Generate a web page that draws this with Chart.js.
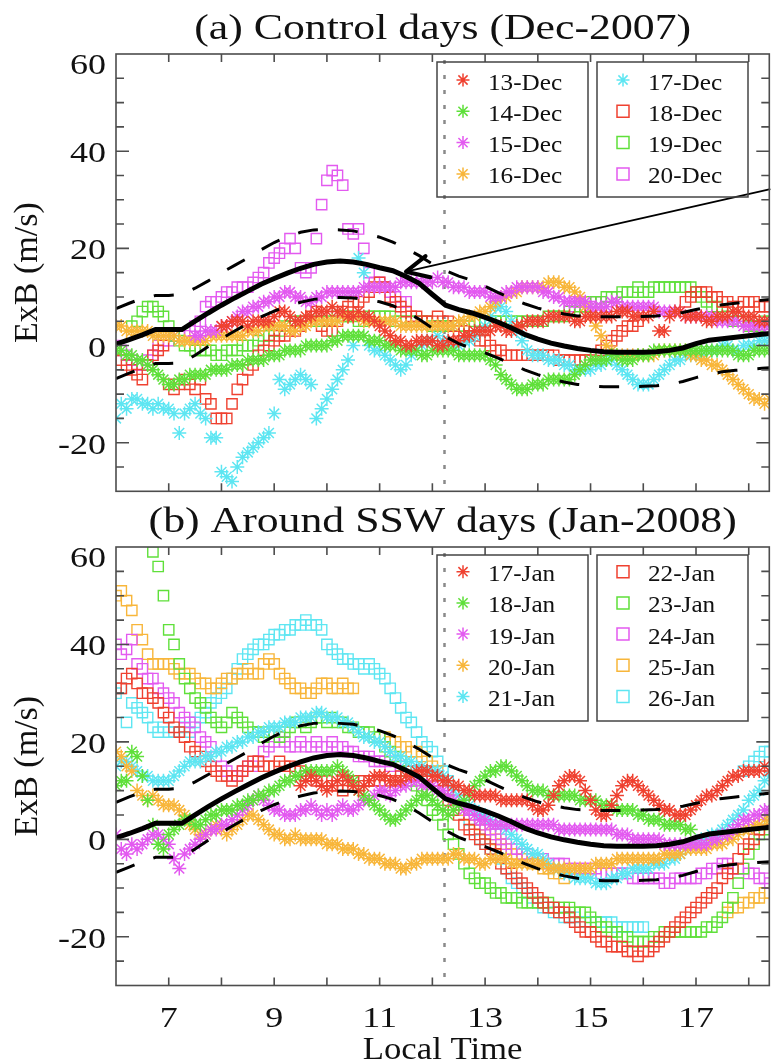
<!DOCTYPE html>
<html>
<head>
<meta charset="utf-8">
<script src="https://cdn.jsdelivr.net/npm/chart.js@4/dist/chart.umd.min.js"></script>
<style>
  html, body { margin: 0; padding: 0; background: #fff; overflow: hidden; }
  #wrap { position: relative; width: 778px; height: 1064px; }
  canvas { position: absolute; left: 0; }
  #dec { top: 0; }
  #jan { top: 500px; }
</style>
</head>
<body>
<div id="wrap">
  <canvas id="dec" width="778" height="500"></canvas>
  <canvas id="jan" width="778" height="564"></canvas>
</div>
<script>
// drift records are sampled every 0.1 h of local time
const STEP = 0.1;
const hourTicks = [7, 8, 9, 10, 11, 12, 13, 14, 15, 16, 17, 18];
const hourLabels = [7, 9, 11, 13, 15, 17];
const yLabels = [-20, 0, 20, 40, 60];
const yMinor = [-25, -20, -15, -10, -5, 0, 5, 10, 15, 20, 25, 30, 35, 40, 45, 50, 55];
const noonLT = 12.23;
const FONT = '"Liberation Serif", "Times New Roman", serif';

// quiet-time average and +/- one sigma envelope
const curveHours = [6, 6.25, 6.5, 6.75, 7, 7.25, 7.5, 7.75, 8, 8.25, 8.5, 8.75, 9, 9.25, 9.5, 9.75, 10, 10.25, 10.5, 10.75,
  11, 11.25, 11.5, 11.75, 12, 12.25, 12.5, 12.75, 13, 13.25, 13.5, 13.75, 14, 14.25, 14.5, 14.75, 15, 15.25, 15.5, 15.75,
  16, 16.25, 16.5, 16.75, 17, 17.25, 17.5, 17.75, 18, 18.25, 18.5];
const quietMean = [0.3, 1.2, 2.2, 3.3, 3.3, 3.3, 5.0, 6.7, 8.3, 9.8, 11.2, 12.6, 13.8, 14.9, 15.9, 16.7, 17.2, 17.4, 17.2, 16.7,
  16.0, 15.4, 14.2, 12.8, 10.5, 8.3, 7.4, 6.7, 5.8, 4.8, 3.6, 2.3, 1.3, 0.5, -0.1, -0.6, -1.0, -1.3, -1.4, -1.4,
  -1.4, -1.3, -1.0, -0.5, 0.4, 1.1, 1.4, 1.7, 2.0, 2.3, 2.6];
const quietUpper = [7.6, 8.7, 9.7, 10.3, 10.3, 10.5, 11.8, 13.3, 15.0, 16.5, 18.0, 19.7, 21.2, 22.4, 23.3, 23.8, 23.9, 23.8, 23.6, 23.0,
  22.3, 21.3, 20.0, 18.5, 16.8, 15.4, 14.3, 13.4, 12.2, 10.9, 9.7, 8.6, 7.7, 7.0, 6.5, 6.1, 6.0, 5.9, 5.9, 6.0,
  6.0, 6.1, 6.4, 6.8, 7.4, 8.0, 8.4, 8.7, 9.0, 9.3, 9.6];
const quietLower = [-6.8, -5.7, -4.6, -3.7, -3.7, -3.6, -2.0, -0.2, 1.4, 3.0, 4.5, 5.9, 7.1, 8.1, 8.9, 9.5, 9.8, 9.9, 9.8, 9.5,
  9.0, 8.2, 7.0, 5.4, 3.6, 1.8, 0.4, -0.6, -1.5, -2.6, -3.8, -5.0, -6.0, -6.9, -7.5, -8.0, -8.3, -8.5, -8.5, -8.5,
  -8.4, -8.3, -8.0, -7.4, -6.6, -5.9, -5.4, -5.1, -4.9, -4.7, -4.5];

const palette = ['#ef4130', '#5fe03a', '#e35af0', '#f8b63a', '#5ee6f2'];

// ---- control days, Dec 2007 ----
const decLabels = ['13-Dec', '14-Dec', '15-Dec', '16-Dec', '17-Dec', '18-Dec', '19-Dec', '20-Dec'];
const decStarts = [8.0, 6.0, 7.5, 6.0, 6.0, 6.0, 6.0, 6.0];
const dec13 = [4,4,5,5,5,4,5,5,5,5, 6,7,7,6,5,5,6,6,7,7, 7,8,7,7,6,6,7,6,6,5, 4,3,2,1,1,0,0,1,1,1,
  1,0,0,1,1,1,2,2,3,3, 3,3,4,4,3,3,4,4,5,5, 5,5,6,6,6,6,6,5,5,6, 6,6,6,6,6,7,7,7,6,6,
  6,6,7,3,3,6,7,7,6,6, 6,6,5,5,6,6,6,7,7,6, 6,6,5,5,5];
const dec14 = [-1,-1,-2,-2,-3,-3,-4,-5,-6,-7, -8,-8,-7,-7,-6,-6,-6,-6,-5,-5, -5,-5,-4,-4,-4,-3,-3,-3,-3,-2,
  -2,-2,-1,-1,-1,-1,0,0,0,0, 0,1,1,2,2,2,2,2,1,1, 1,0,0,0,-1,-1,-1,-1,-2,-2,
  -1,-1,-1,-1,-1,-2,-2,-2,-2,-2, -2,-3,-4,-6,-7,-8,-9,-9,-9,-8, -8,-8,-7,-7,-7,-7,-7,-6,-5,-4,
  -3,-3,-3,-3,-2,-2,-3,-3,-3,-2, -2,-2,-1,-1,-1,-1,-1,-1,-1,-1, -1,-1,-1,-1,-1,-1,-1,-1,-2,-2, -2,-1,-1,-1,-1];
const dec15 = [2,2,3,3,3, 4,4,5,6,7,7,8,8,9,9, 10,10,11,11,10,10,9,9,10,10, 11,11,11,11,11,11,11,12,12,12,
  12,12,12,12,13,13,13,13,13,13, 13,14,13,13,12,12,12,11,11,11, 11,10,10,10,11,11,12,12,12,12,
  12,11,11,10,10,9,9,9,9,9, 8,8,8,8,9,9,8,8,8,8, 8,8,8,7,7,7,7,7,6,6, 6,6,6,6,5,5,5,5,5,4, 4,4,4,4,4];
const dec16 = [4,4,3,3,3,3,3,2,2,2, 2,2,1,1,1,1,1,1,2,2, 2,2,2,2,2,3,3,3,4,4, 4,4,4,3,3,4,4,5,5,5,
  5,5,5,6,6,6,6,5,5,5, 5,5,5,5,4,4,4,4,4,4, 4,4,4,4,4,5,5,6,6,7, 7,8,9,10,10,11,11,12,12,12,
  12,12,13,13,13,12,12,11,10,8, 6,4,2,0,-1,-2,-2,-2,-2,-2, -2,-2,-2,-1,-1,-1,-1,-1,-1,-2,
  -2,-3,-3,-4,-4,-5,-6,-7,-8,-9, -10,-11,-11,-12,-11];
const dec17 = [-15,-12,-13,-11,-11,-12,-12,-13,-12,-13, -13,-14,-18,-14,-13,-12,-14,-15,-19,-19,
  -26,-27,-28,-25,-23,-22,-21,-20,-19,-18, -14,-7,-9,-8,-7,-6,-7,-8,-15,-13, -11,-9,-7,-5,-3,0,18,15,0,-1,
  -1,-2,-3,-4,-5,-4,-2,-1,0,1, 1,2,1,1,0,0,1,1,2,3, 4,6,8,8,7,5,3,1,-1,-2, -2,-2,-3,-3,-3,-4,-4,-5,-5,-5,
  -5,-4,-4,-3,-3,-4,-5,-6,-7,-8, -8,-8,-7,-6,-5,-4,-3,-3,-2,-2, -2,-2,-1,-1,-1,0,0,-1,-1,0, 0,0,1,1,1];
const dec18 = [-1,-3,-4,-5,-6,-7,-4,-2,-1,0, -8,-9,-8,-7,-8,-9,-7,-11,-12,-15, -15,-15,-12,-9,-7,-5,-4,-2,-1,0,
  1,2,2,3,3,4,5,6,7,4, 3,3,5,7,8,9,9,10,11,12, 13,12,10,9,8,7,6,6,5,5, 5,6,5,5,4,3,3,2,2,1,
  1,0,-1,-1,-2,-2,-2,-2,-2,-2, -2,-2,-2,-2,-3,-3,-3,-3,-3,-3, -3,-2,-1,0,1,2,3,4,4,5,
  null,null,null,null,null,null,null,null,9,10, 11,11,11,10,10,9,9,8,8,9, 9,9,8,8,8];
const dec19 = [null,null,null,4,5,7,8,8,7,6, 4,2,1,0,0,-1,-1,-1,-1,-2, -2,-1,-1,-1,0,0,0,1,2,2,
  3,3,4,4,5,5,5,5,5,5, 5,5,6,6,6,6,5,5,6,6, 6,6,6,5,5,5,5,5,5,5, 4,4,4,4,4,4,4,4,5,5,
  5,5,5,5,5,5,5,5,5,5, 5,5,6,6,6,6,7,7,8,8, 9,9,9,10,10,10,11,11,11,12, 11,11,12,12,12,12,12,12,12,12,
  11,10,9,8,8,7,6,5,5,5, 4,4,4,5,5];
const dec20 = [0,-1,-2,-3,-4,-4,-3,-2,0,1, 1,2,2,2,3,4,5,8,9,9, 10,11,11,12,12,12,13,14,15,17,
  18,19,20,22,20,16,15,16,22,29, 34,36,35,33,24,23,24,20,15,13, 13,12,11,10,9,9,null,null,null,null,
  null,null,null,null,null,null,null,null,null,null, null,null,null,null,null,null,null,null,null,null,
  null,null,null,null,null,null,8,9,9,9, 8,9,9,8];
const decSeries = [dec13, dec14, dec15, dec16, dec17, dec18, dec19, dec20];

// ---- days around the SSW, Jan 2008 ----
const janLabels = ['17-Jan', '18-Jan', '19-Jan', '20-Jan', '21-Jan', '22-Jan', '23-Jan', '24-Jan', '25-Jan', '26-Jan'];
const janStarts = [9.5, 6.0, 6.0, 6.0, 6.0, 6.0, 6.7, 6.0, 6.0, 6.0];
const jan17 = [11,12,13,12,11, 10,11,12,13,12,11,10,11,12,13, 13,13,12,12,12,13,13,14,14,14,
  13,13,12,12,11,11,10,10,9,9, 9,9,9,8,8,8,8,8,8,7, 6,6,7,9,11,12,13,13,12,10,
  8,6,5,5,7,9,11,12,12,11, 10,9,8,7,6,6,5,5,5,6, 7,8,9,9,10,11,12,13,13,14, 14,14,14,15,14];
const jan18 = [11,12,12,18,17,13,8,3,-1,-2, 1,2,3,4,4,3,3,4,5,5, 6,6,6,7,7,8,8,9,9,10,
  10,11,12,12,13,13,14,14,14,14, 14,14,15,14,13,12,10,9,8,7, 6,5,4,4,5,6,7,8,9,9,
  8,7,6,5,6,7,8,9,11,12, 13,14,14,15,15,14,13,12,11,10, 10,10,9,9,9,9,9,9,8,8,
  8,8,7,7,7,6,6,6,6,5, 5,4,4,4,3,3,3,3,2,2];
const jan19 = [1,-2,-3,-1,-2,-1,0,1,1,0, -1,-4,-6,-3,-2,-1,0,1,2,2, 3,3,4,5,6,7,8,9,8,7,
  6,6,5,5,5,6,6,7,6,5, 6,5,6,7,6,6,7,8,8,9, 10,10,9,10,11,11,12,12,11,11,
  11,10,10,9,8,7,6,6,5,4, 4,3,3,3,3,3,3,3,3,3, 3,3,3,3,2,2,2,2,2,2,
  2,2,2,2,2,1,1,1,0,0, 0,0,0,0,-1,-1,-1,-1,-1,-1, -1,-1,-1,0,0,1,1,2,3,4, 4,5,5,6,6];
const jan20 = [18,17,15,14,10,9,8,9,8,7, 7,7,6,5,3,2,1,1,2,3, 2,1,2,3,4,5,5,4,3,2,
  1,1,0,0,1,0,0,0,0,0, -1,-1,-1,-2,-2,-2,-3,-3,-4,-4, -4,-5,-5,-5,-6,-6,-5,-5,-4,-4,
  -4,-4,-4,-4,-3,-3,-4,-4,-4,-5, -5,-4,-4,-4,-4,-5,-5,-5,-5,-5, -5,-5,-6,-6,-6,-6,-6,-6,-6,-6,
  -6,-5,-5,-5,-5,-4,-4,-4,-4,-4, -4,-4,-4,-4,-3,-3,-3,-3,-2,-2, -2,-2,-2,-1,-1,-1,0,0,1,2, 2,3,3,4,4];
const jan21 = [15,16,16,15,14,13,13,12,12,12, 12,13,14,15,16,16,16,17,17,18, 18,19,19,20,20,21,21,22,22,23,
  23,23,24,24,24,25,25,25,26,26, 25,25,25,24,24,23,22,21,21,20, 20,19,18,17,17,16,16,15,15,14,
  14,14,13,12,10,9,8,7,6,5, 5,4,3,3,2,1,0,-1,-2,-3, -3,-4,-5,-6,-6,-7,-7,-8,-8,-8,
  -8,-9,-9,-9,-8,-8,-7,-7,-6,-6, -6,-6,-5,-5,-5,-4,-4,-3,-2,-1, -1,0,0,1,1,2,3,4,5,6, 8,9,10,12,13];
const jan22 = [31,31,33,34,32,30,30,29,28,26, 25,23,22,21,19,18,17,16,15,14, 13,13,12,13,14,15,16,16,15,15,
  15,16,15,15,14,14,13,13,12,12, 12,11,11,10,11,12,11,12,12,12, 12,11,12,12,13,13,14,13,14,14,
  13,12,10,8,6,5,3,2,1,0, -1,-2,-3,-5,-6,-7,-8,-9,-10,-11, -12,-13,-14,-14,-15,-15,-16,-17,-18,-19,
  -19,-20,-21,-21,-22,-22,-22,-23,-23,-24, -23,-23,-22,-21,-20,-19,-18,-17,-16,-15,
  -14,-13,-12,-11,-10,-8,-7,-6,-4,-2, -1,0,2,4,5];
const jan23 = [59,56,50, 43,40,36,33,31,29,28,27,25,24, 23,24,26,25,24,23,22,22,21,22,
  22,21,22,23,24,24,23,24,25,25, 24,25,24,24,23,23,22,22,22,21, 21,19,18,17,16,14,12,11,10,8,
  6,5,3,1,-1,-3,-5,-7,-8,-9, -9,-10,-11,-11,-12,-12,-12,-13,-13,-13, -13,-13,-13,-14,-14,-14,-14,-15,-15,-15,
  -16,-17,-18,-18,-19,-19,-20,-20,-21,-21, -21,-21,-20,-20,-19,-19,-19,-19,-19,-19,
  -19,-19,-18,-18,-17,-16,-14,-12,-9,-6, -3,-1,1,2,3];
const jan24 = [40,38,39,41,36,35,33,33,31,30, 29,28,26,25,24,23,21,20,19,17, 15,14,13,13,14,15,15,16,18,19,
  20,21,20,19,19,20,19,19,20,19, 19,20,19,19,18,18,17,17,17,16, 16,16,15,16,15,14,14,13,13,13,
  12,11,11,10,9,8,7,6,5,4, 3,2,1,0,-1,-2,-2,-3,-3,-4, -4,-4,-5,-5,-5,-5,-6,-6,-6,-6,
  -6,-6,-7,-7,-7,-7,-7,-7,-8,-8, -8,-8,-8,-8,-9,-9,-8,-8,-8,-8, -8,-7,-7,-6,-6,-5,-5,-6,-6,-6, -7,-7,-8,-8,-9];
const jan25 = [50,51,49,47,43,41,38,36,36,36, 36,35,34,34,34,33,32,32,31,31, 32,33,33,34,34,35,34,34,36,37,
  36,34,33,32,31,31,30,30,31,32, 32,31,31,32,31,31,null,null,null,null, 21,21,20,20,19,19,18,18,17,16,
  15,14,12,10,8,7,6,5,4,3, 2,1,0,-1,-2,-3,-3,-4,-4,-5, -5,-6,-6,-7,-7,-8,null,null,null,null,
  null,null,null,null,null,null,null,null,null,null, null,null,null,null,null,null,null,null,null,null,
  null,null,null,null,null,null,-15,-14,-14,-13, -13,-12,-12,-11,-11];
const jan26 = [30,31,24,28,27,26,25,23,22,23, 22,22,22,23,22,24,25,26,28,29, 30,31,33,35,37,38,39,40,40,41,
  42,42,43,43,44,44,45,44,44,43, 40,39,38,37,37,36,36,35,36,35, 34,33,31,29,27,25,24,22,20,19,
  18,16,14,12,10,8,6,4,2,0, -1,-2,-3,-4,-6,-8,-9,-10,-11,-12, -13,-14,-14,-15,-15,-16,-16,-16,-17,-17,
  -17,-17,-17,-17,-17,-18,-18,-18,-18,-18, -18,null,null,null,null,null,null,null,null,null,
  null,null,null,null,null,null,null,null,null,14, 15,16,17,18,18];
const janSeries = [jan17, jan18, jan19, jan20, jan21, jan22, jan23, jan24, jan25, jan26];

function toPoints(start, vals) {
  return vals.map((v, i) => ({ x: Math.round((start + i * STEP) * 100) / 100, y: v }));
}
function curve(vals) {
  return curveHours.map((h, i) => ({ x: h, y: vals[i] }));
}

function wideText(ctx, str, x, y, size, sx, align) {
  ctx.save();
  ctx.font = size + 'px ' + FONT;
  ctx.textAlign = align;
  ctx.textBaseline = 'alphabetic';
  ctx.fillStyle = '#111';
  ctx.translate(x, y);
  ctx.scale(sx, 1);
  ctx.fillText(str, 0, 0);
  ctx.restore();
}

function legendMark(ctx, style, color, cx, cy) {
  ctx.save();
  ctx.strokeStyle = color;
  ctx.lineWidth = 1.5;
  ctx.beginPath();
  if (style === 'star') {
    for (let k = 0; k < 4; k++) {
      const r = k * Math.PI / 4, dx = Math.cos(r) * 6.5, dy = Math.sin(r) * 6.5;
      ctx.moveTo(cx - dx, cy - dy);
      ctx.lineTo(cx + dx, cy + dy);
    }
  } else {
    ctx.rect(cx - 6, cy - 6, 12, 12);
  }
  ctx.stroke();
  ctx.restore();
}

const panelFrame = {
  id: 'panelFrame',
  beforeDatasetsDraw(chart) {
    const { ctx, chartArea: a, scales: { x } } = chart;
    const px = x.getPixelForValue(noonLT);
    ctx.save();
    ctx.strokeStyle = '#8a8a8a';
    ctx.lineWidth = 2.5;
    ctx.setLineDash([4, 11]);
    ctx.beginPath();
    ctx.moveTo(px, a.top + 6);
    ctx.lineTo(px, a.bottom);
    ctx.stroke();
    ctx.restore();
  },
  afterDraw(chart, args, opts) {
    const { ctx, chartArea: a, scales: { x, y } } = chart;
    ctx.save();

    if (opts.arrow) {
      const x0 = x.getPixelForValue(opts.arrow.tail[0]), y0 = y.getPixelForValue(opts.arrow.tail[1]);
      const x1 = x.getPixelForValue(opts.arrow.tip[0]), y1 = y.getPixelForValue(opts.arrow.tip[1]);
      ctx.strokeStyle = '#000';
      ctx.lineWidth = 1.8;
      ctx.beginPath();
      ctx.moveTo(x0, y0);
      ctx.lineTo(x1, y1);
      ctx.stroke();
      const ang = Math.atan2(y0 - y1, x0 - x1);
      ctx.lineWidth = 4;
      ctx.lineCap = 'round';
      ctx.beginPath();
      [-0.45, 0.45].forEach(d => {
        ctx.moveTo(x1, y1);
        ctx.lineTo(x1 + 25 * Math.cos(ang + d), y1 + 25 * Math.sin(ang + d));
      });
      ctx.stroke();
      ctx.lineCap = 'butt';
    }

    // box and inward ticks
    ctx.strokeStyle = '#4d4d4d';
    ctx.lineWidth = 1.6;
    ctx.strokeRect(a.left, a.top, a.right - a.left, a.bottom - a.top);
    ctx.beginPath();
    hourTicks.forEach(h => {
      const p = x.getPixelForValue(h);
      ctx.moveTo(p, a.bottom); ctx.lineTo(p, a.bottom - 8);
      ctx.moveTo(p, a.top); ctx.lineTo(p, a.top + 8);
    });
    yMinor.forEach(v => {
      const p = y.getPixelForValue(v);
      const len = v % 20 === 0 ? 13 : 8;
      ctx.moveTo(a.left, p); ctx.lineTo(a.left + len, p);
      ctx.moveTo(a.right, p); ctx.lineTo(a.right - len, p);
    });
    ctx.stroke();

    // y tick labels
    yLabels.forEach(v => {
      const p = y.getPixelForValue(v);
      wideText(ctx, String(v), 106, Math.max(p + 11, a.top + 20), 30, 1.2, 'right');
    });
    // x tick labels and axis title
    if (opts.xLabels) {
      hourLabels.forEach(h => {
        wideText(ctx, String(h), x.getPixelForValue(h), a.bottom + 41.5, 30, 1.2, 'center');
      });
      wideText(ctx, 'Local Time', (a.left + a.right) / 2, a.bottom + 73.5, 31, 1.12, 'center');
    }

    // y axis title
    ctx.save();
    ctx.font = '34px ' + FONT;
    ctx.fillStyle = '#111';
    ctx.textAlign = 'center';
    ctx.translate(37, (a.top + a.bottom) / 2);
    ctx.rotate(-Math.PI / 2);
    ctx.fillText('ExB (m/s)', 0, 0);
    ctx.restore();

    // panel title
    wideText(ctx, opts.title, (a.left + a.right) / 2, opts.titleY, 35, 1.25, 'center');

    // legend, two boxed columns
    const L = opts.legend;
    [437, 597].forEach((bx, col) => {
      ctx.strokeStyle = '#444';
      ctx.lineWidth = 1.5;
      ctx.strokeRect(bx, L.top, 151, L.height);
      for (let r = 0; r < L.perCol; r++) {
        const i = col * L.perCol + r;
        if (i >= L.labels.length) break;
        const cy = L.first + r * L.gap;
        legendMark(ctx, i < 5 ? 'star' : 'rect', palette[i % 5], bx + 26, cy);
        wideText(ctx, L.labels[i], bx + 51, cy + 9.5, 24, 1.05, 'left');
      }
    });
    ctx.restore();
  }
};

function buildPanel(id, series, starts, labels, pad, frameOpts) {
  const datasets = [
    { data: curve(quietMean), showLine: true, borderColor: '#000', borderWidth: 5, pointRadius: 0, order: 0 },
    { data: curve(quietUpper), showLine: true, borderColor: '#000', borderWidth: 3, borderDash: [20, 20], pointRadius: 0, order: 0 },
    { data: curve(quietLower), showLine: true, borderColor: '#000', borderWidth: 3, borderDash: [20, 20], pointRadius: 0, order: 0 }
  ];
  series.forEach((vals, i) => {
    const star = i < 5;
    datasets.push({
      label: labels[i],
      data: toPoints(starts[i], vals),
      showLine: false,
      pointStyle: star ? 'star' : 'rect',
      pointRadius: star ? 7 : 7.3,
      borderColor: palette[i % 5],
      pointBorderColor: palette[i % 5],
      backgroundColor: 'rgba(0,0,0,0)',
      pointBackgroundColor: 'rgba(0,0,0,0)',
      pointBorderWidth: star ? 1.5 : 1.4,
      order: 1 + i
    });
  });
  return new Chart(document.getElementById(id), {
    type: 'scatter',
    data: { datasets },
    options: {
      responsive: false,
      animation: false,
      devicePixelRatio: 1,
      events: [],
      layout: { padding: pad },
      scales: {
        x: { type: 'linear', min: 6, max: 18.39, display: false },
        y: { type: 'linear', min: -30, max: 60, display: false }
      },
      plugins: {
        legend: { display: false },
        tooltip: { enabled: false },
        panelFrame: frameOpts
      }
    },
    plugins: [panelFrame]
  });
}

buildPanel('dec', decSeries, decStarts, decLabels,
  { left: 116, right: 1, top: 54, bottom: 7 },
  {
    title: '(a) Control days (Dec-2007)', titleY: 38.5, xLabels: false,
    arrow: { tail: [18.41, 32.2], tip: [11.5, 15.2] },
    legend: { labels: decLabels, top: 62, height: 135, first: 80, gap: 31.3, perCol: 4 }
  });

buildPanel('jan', janSeries, janStarts, janLabels,
  { left: 116, right: 1, top: 47, bottom: 78.5 },
  {
    title: '(b) Around SSW days (Jan-2008)', titleY: 32, xLabels: true,
    legend: { labels: janLabels, top: 55, height: 166, first: 71.7, gap: 31.2, perCol: 5 }
  });
</script>
</body>
</html>
